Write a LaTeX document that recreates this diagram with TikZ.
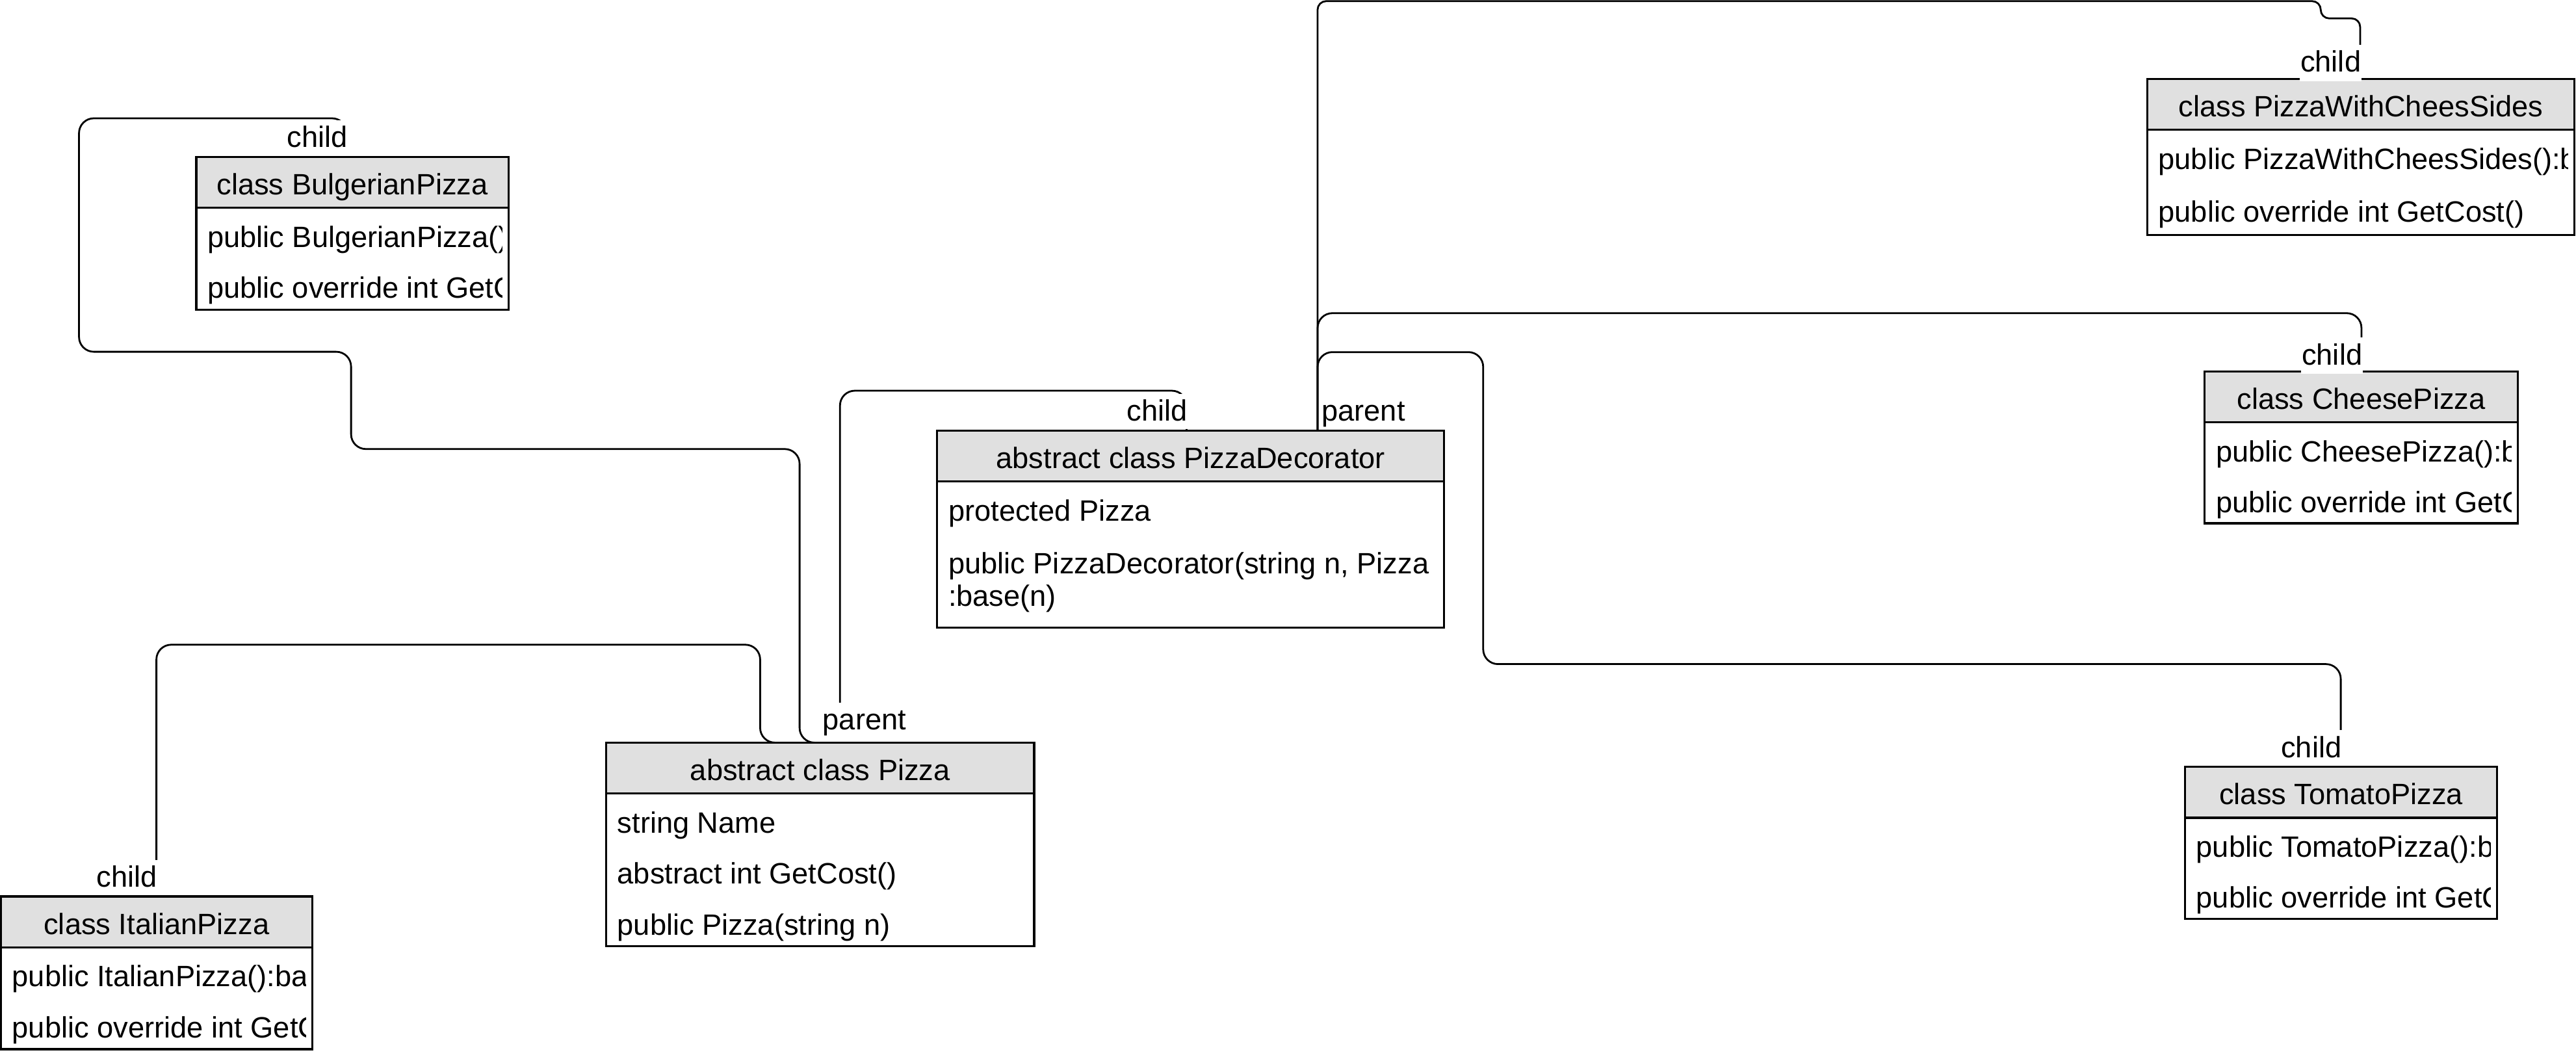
\documentclass[tikz,border=0pt]{standalone}
\usepackage{fontspec}
\setmainfont{Liberation Sans}
\definecolor{hdr}{RGB}{224,224,224}
\tikzset{
  boxline/.style={line width=1.25pt, draw=black},
  edge/.style={line width=1.1pt, draw=black, rounded corners=9pt},
  txt/.style={font=\fontsize{17.9pt}{20pt}\selectfont, inner sep=0pt, outer sep=0pt},
  lbl/.style={txt, fill=white, inner xsep=0.5pt, text height=16.5pt, text depth=5pt},
  frame/.style={inner sep=0pt, outer sep=0pt, anchor=north west},
}
% draws header fill, frame and title of an already placed box node
\newcommand\umlbox[2]{%
  \fill[hdr] (#1.north west) rectangle ([yshift=-31pt]#1.north east);
  \draw[boxline] ([yshift=-31pt]#1.north west) -- ([yshift=-31pt]#1.north east);
  \draw[boxline] (#1.north west) rectangle (#1.south east);
  \node[txt, anchor=base] (#1-t) at ([yshift=-23pt]#1.north) {#2};
}
\newcommand\umlrow[4]{%
  \begin{scope}
    \clip (#1.north west) rectangle ([xshift=-4pt]#1.south east);
    \node[txt, anchor=base west] (#1-#2) at ([xshift=6.8pt, yshift=-#3pt]#1.north west) {#4};
  \end{scope}
}
\begin{document}
\begin{tikzpicture}[x=1pt, y=-1pt]
\useasboundingbox (0,0) rectangle (1568,643.3);

% box nodes
\node[frame, minimum width=190pt, minimum height=93pt] (bulg) at (119.5,95.5) {};
\node[frame, minimum width=308.5pt, minimum height=120pt] (deco) at (570.5,262) {};
\node[frame, minimum width=260.5pt, minimum height=124pt] (pizza) at (369,452) {};
\node[frame, minimum width=189.4pt, minimum height=93pt] (ital) at (0.6,545.6) {};
\node[frame, minimum width=260pt, minimum height=95pt] (pwcs) at (1307,48) {};
\node[frame, minimum width=190.5pt, minimum height=92.5pt] (cheese) at (1342,226) {};
\node[frame, minimum width=190pt, minimum height=92.5pt] (tomato) at (1330,466.7) {};

% connectors
\draw[edge] ([xshift=91.6pt]bulg.north west) -- (211.1,72) -- (48.1,72) -- (48.1,214.1)
  -- (213.7,214.1) -- (213.7,273.3) -- (486.7,273.3) -- (486.7,452) -- ([xshift=126pt]pizza.north west);
\draw[edge] ([xshift=94.6pt]ital.north west) -- (95.2,392.4) -- (462.7,392.4) -- (462.7,452)
  -- ([xshift=105pt]pizza.north west);
\draw[edge] ([xshift=151.8pt]deco.north west) -- (722.3,237.8) -- (511.3,237.8)
  -- ([xshift=142.3pt]pizza.north west);
\draw[edge, rounded corners=5.2pt] ([xshift=231.5pt]deco.north west) -- (802,0.7) -- (1412.6,0.7)
  -- (1412.6,11.2) -- (1436.6,11.2) -- ([xshift=129.6pt]pwcs.north west);
\draw[edge] ([xshift=231.5pt]deco.north west) -- (802,190.6) -- (1437.4,190.6)
  -- ([xshift=95.4pt]cheese.north west);
\draw[edge] ([xshift=231.5pt]deco.north west) -- (802,214.3) -- (902.8,214.3) -- (902.8,404.2)
  -- (1424.8,404.2) -- ([xshift=94.8pt]tomato.north west);

% class boxes
\umlbox{bulg}{class BulgerianPizza}
\umlrow{bulg}{r1}{55}{public BulgerianPizza()}
\umlrow{bulg}{r2}{86}{public override int GetC}

\umlbox{deco}{abstract class PizzaDecorator}
\umlrow{deco}{r1}{55}{protected Pizza}
\umlrow{deco}{r2}{87}{public PizzaDecorator(string n, Pizza p}
\umlrow{deco}{r3}{107}{:base(n)}

\umlbox{pizza}{abstract class Pizza}
\umlrow{pizza}{r1}{55}{string Name}
\umlrow{pizza}{r2}{86}{abstract int GetCost()}
\umlrow{pizza}{r3}{117}{public Pizza(string n)}

\umlbox{ital}{class ItalianPizza}
\umlrow{ital}{r1}{55}{public ItalianPizza():ba}
\umlrow{ital}{r2}{86}{public override int GetC}

\umlbox{pwcs}{class PizzaWithCheesSides}
\umlrow{pwcs}{r1}{55}{public PizzaWithCheesSides():b}
\umlrow{pwcs}{r2}{87}{public override int GetCost()}

\umlbox{cheese}{class CheesePizza}
\umlrow{cheese}{r1}{55}{public CheesePizza():b}
\umlrow{cheese}{r2}{86}{public override int GetC}

\umlbox{tomato}{class TomatoPizza}
\umlrow{tomato}{r1}{55}{public TomatoPizza():b}
\umlrow{tomato}{r2}{86}{public override int GetC}

% end labels
\node[lbl, anchor=base east] (l-bulg) at (212.1,89.8) {child};
\node[lbl, anchor=base east] (l-ital) at (96.2,539.9) {child};
\node[lbl, anchor=base east] (l-decoc) at (723.3,256.1) {child};
\node[lbl, anchor=base west] (l-decop) at (804,256) {parent};
\node[lbl, anchor=base west, text depth=7pt] (l-pizzap) at (500.3,444.3) {parent};
\node[lbl, anchor=base east, text depth=5.5pt] (l-pwcs) at (1437.6,43.8) {child};
\node[lbl, anchor=base east, text depth=5.5pt] (l-cheese) at (1438.4,222) {child};
\node[lbl, anchor=base east] (l-tomato) at (1425.8,461) {child};
\end{tikzpicture}
\end{document}
